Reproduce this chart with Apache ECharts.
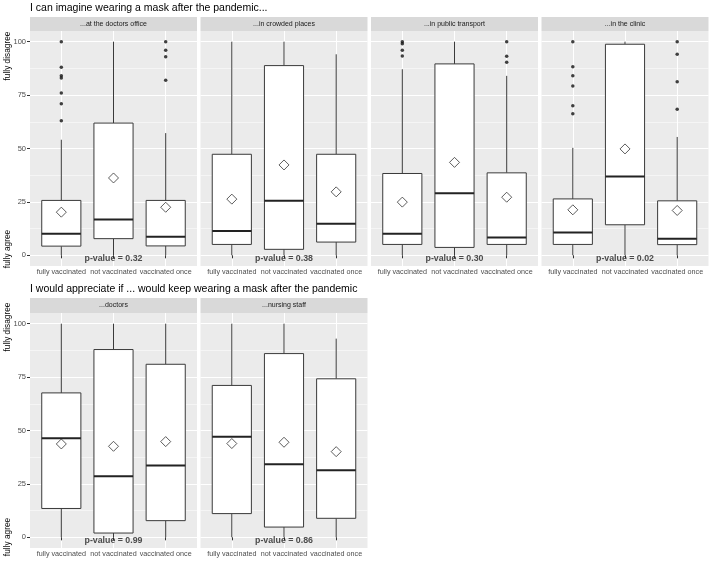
<!DOCTYPE html>
<html>
<head>
<meta charset="utf-8">
<script src="https://cdn.jsdelivr.net/npm/echarts@6/dist/echarts.min.js"></script>
<style>
  html, body { margin: 0; padding: 0; background: #fff; }
  #chart { width: 710px; height: 563px; }
</style>
</head>
<body>
<div id="chart"></div>
<script>
// data
var groups = ['fully vaccinated', 'not vaccinated', 'vaccinated once']
var rowTitles = [
  'I can imagine wearing a mask after the pandemic...',
  'I would appreciate if ... would keep wearing a mask after the pandemic'
]
var panelTitles = [
  '...at the doctors office', '...in crowded places', '...in public transport',
  '...in the clinic', '...doctors', '...nursing staff'
]
var yTicks = [0, 25, 50, 75, 100]
var yMinor = [12.5, 37.5, 62.5, 87.5]
var pValues = ['0.32', '0.38', '0.30', '0.02', '0.99', '0.86']

// [min, Q1, median, Q3, max] for each group
var boxOffice = [[0, 4.3, 10.1, 25.7, 54.1], [0, 7.8, 16.8, 61.9, 100], [0, 4.4, 8.7, 25.7, 57.2]]
var boxCrowded = [[0, 5.1, 11.4, 47.3, 100], [0, 2.8, 25.5, 88.8, 100], [0, 6.2, 14.8, 47.3, 94.1]]
var boxTransport = [[0, 5.1, 10.1, 38.3, 87.1], [0, 3.7, 29.1, 89.6, 100], [0, 5.1, 8.3, 38.6, 84]]
var boxClinic = [[0, 5.1, 10.7, 26.4, 50.3], [0, 14.3, 36.9, 98.8, 100], [0, 5.0, 7.8, 25.5, 55.4]]
var boxDoctors = [[0, 13.5, 46.4, 67.6, 100], [0, 2.0, 28.6, 87.9, 100], [0, 7.8, 33.6, 81.0, 100]]
var boxNursing = [[0, 11.1, 47.1, 71.1, 100], [0, 4.8, 34.2, 86.0, 100], [0, 8.9, 31.4, 74.2, 93.0]]

var meanOffice = [20.2, 36.2, 22.5]
var meanCrowded = [26.3, 42.3, 29.7]
var meanTransport = [24.9, 43.5, 27.2]
var meanClinic = [21.3, 49.8, 21.0]
var meanDoctors = [43.7, 42.6, 44.8]
var meanNursing = [43.9, 44.5, 40.1]

var outOffice = [[100, 88, 84, 83, 76, 71, 63], [], [100, 96, 93, 82]]
var outCrowded = [[], [], []]
var outTransport = [[100, 99, 96, 93.3], [], [100, 93.2, 90.4]]
var outClinic = [[100, 88.3, 84, 79.2, 70, 66.3], [], [100, 94.1, 81.2, 68.4]]
var outDoctors = [[], [], []]
var outNursing = [[], [], []]

var boxes = [boxOffice, boxCrowded, boxTransport, boxClinic, boxDoctors, boxNursing]
var means = [meanOffice, meanCrowded, meanTransport, meanClinic, meanDoctors, meanNursing]
var outliers = [outOffice, outCrowded, outTransport, outClinic, outDoctors, outNursing]

// layout
var PW = 167, PH = 235
var panelPos = [[30, 31], [200.5, 31], [371, 31], [541.5, 31], [30, 313], [200.5, 313]]
var FONT = 'Liberation Sans, Arial, sans-serif'

function renderBox(params, api) {
  var x = api.value(0)
  var lo = api.coord([x, api.value(1)])
  var q1 = api.coord([x, api.value(2)])
  var md = api.coord([x, api.value(3)])
  var q3 = api.coord([x, api.value(4)])
  var hi = api.coord([x, api.value(5)])
  var half = api.size([0.75, 0])[0] / 2
  var line = { stroke: '#3a3a3a', lineWidth: 1 }
  return {
    type: 'group',
    children: [
      { type: 'line', shape: { x1: hi[0], y1: hi[1], x2: q3[0], y2: q3[1] }, style: line },
      { type: 'line', shape: { x1: q1[0], y1: q1[1], x2: lo[0], y2: lo[1] }, style: line },
      { type: 'rect', shape: { x: q3[0] - half, y: q3[1], width: half * 2, height: q1[1] - q3[1] },
        style: { fill: '#fff', stroke: '#3a3a3a', lineWidth: 1 } },
      { type: 'line', shape: { x1: md[0] - half, y1: md[1], x2: md[0] + half, y2: md[1] },
        style: { stroke: '#222', lineWidth: 2 } }
    ]
  }
}

var grids = [], xAxes = [], yAxes = [], series = [], graphics = []

panelPos.forEach(function (p, i) {
  var first = i === 0 || i === 4
  grids.push({ left: p[0], top: p[1], width: PW, height: PH, show: true,
    backgroundColor: '#ebebeb', borderWidth: 0 })
  xAxes.push({
    type: 'value', gridIndex: i, min: 0.4, max: 3.6,
    axisLine: { show: false },
    axisTick: { show: true, length: 3, customValues: [1, 2, 3], lineStyle: { color: '#333' } },
    axisLabel: { customValues: [1, 2, 3], margin: 3, fontSize: 7.2, color: '#4d4d4d', fontFamily: FONT,
      formatter: function (v) { return groups[Math.round(v) - 1] } },
    splitLine: { show: true, lineStyle: { color: '#fff', width: 1 } }
  })
  yAxes.push({
    type: 'value', gridIndex: i, min: -5, max: 105,
    axisLine: { show: false },
    axisTick: { show: first, length: 3, customValues: yTicks, lineStyle: { color: '#333' } },
    axisLabel: { show: first, customValues: yTicks, margin: 4, fontSize: 7.5, color: '#4d4d4d', fontFamily: FONT },
    splitLine: { show: true, lineStyle: { color: '#fff', width: 1 } }
  })
  yAxes.push({
    type: 'value', gridIndex: i, min: -5, max: 105, position: 'right',
    axisLine: { show: false },
    axisTick: { show: false, customValues: yMinor },
    axisLabel: { show: false },
    splitLine: { show: true, lineStyle: { color: '#fff', width: 0.5 } }
  })

  var boxData = boxes[i].map(function (b, g) { return [g + 1].concat(b) })
  series.push({
    type: 'custom', xAxisIndex: i, yAxisIndex: i * 2, renderItem: renderBox,
    encode: { x: 0, y: [1, 2, 3, 4, 5] }, data: boxData, silent: true
  })
  var outData = []
  outliers[i].forEach(function (list, g) {
    list.forEach(function (v) { outData.push([g + 1, v]) })
  })
  series.push({
    type: 'scatter', xAxisIndex: i, yAxisIndex: i * 2, data: outData,
    symbolSize: 3.5, itemStyle: { color: '#111' }, silent: true
  })
  series.push({
    type: 'scatter', xAxisIndex: i, yAxisIndex: i * 2,
    data: means[i].map(function (m, g) { return [g + 1, m] }),
    symbol: 'diamond', symbolSize: 10, z: 5, silent: true,
    itemStyle: { color: 'rgba(255,255,255,0)', borderColor: '#333', borderWidth: 1 }
  })
  series.push({
    type: 'scatter', xAxisIndex: i, yAxisIndex: i * 2, data: [[2, -1.5]],
    symbolSize: 1, itemStyle: { color: 'rgba(0,0,0,0)' }, z: 6, silent: true,
    label: { show: true, position: 'inside', formatter: 'p-value = ' + pValues[i],
      fontSize: 8.8, fontWeight: 'bold', color: '#222', fontFamily: FONT }
  })

  // facet strip
  var stripTop = p[1] - (i < 4 ? 14 : 15)
  graphics.push({ type: 'rect', shape: { x: p[0], y: stripTop, width: PW, height: p[1] - stripTop },
    style: { fill: '#d9d9d9' }, silent: true })
  graphics.push({ type: 'text', x: p[0] + PW / 2, y: (stripTop + p[1]) / 2, silent: true,
    style: { text: panelTitles[i], fontSize: 7, fill: '#1a1a1a', fontFamily: FONT,
      align: 'center', verticalAlign: 'middle' } })
})

graphics.push({ type: 'text', x: 30, y: 8, style: { text: rowTitles[0], fontSize: 10.5, fill: '#000',
  fontFamily: FONT, verticalAlign: 'middle' } })
graphics.push({ type: 'text', x: 30, y: 289, style: { text: rowTitles[1], fontSize: 10.5, fill: '#000',
  fontFamily: FONT, verticalAlign: 'middle' } })

var axisTitles = [['fully disagree', 56], ['fully agree', 249], ['fully disagree', 327], ['fully agree', 537]]
axisTitles.forEach(function (t) {
  graphics.push({ type: 'text', x: 8, y: t[1], rotation: Math.PI / 2,
    style: { text: t[0], fontSize: 8.3, fill: '#000', fontFamily: FONT, align: 'center', verticalAlign: 'middle' } })
})

var chart = echarts.init(document.getElementById('chart'))
chart.setOption({
  animation: false,
  grid: grids,
  xAxis: xAxes,
  yAxis: yAxes,
  series: series,
  graphic: graphics
})
</script>
</body>
</html>
